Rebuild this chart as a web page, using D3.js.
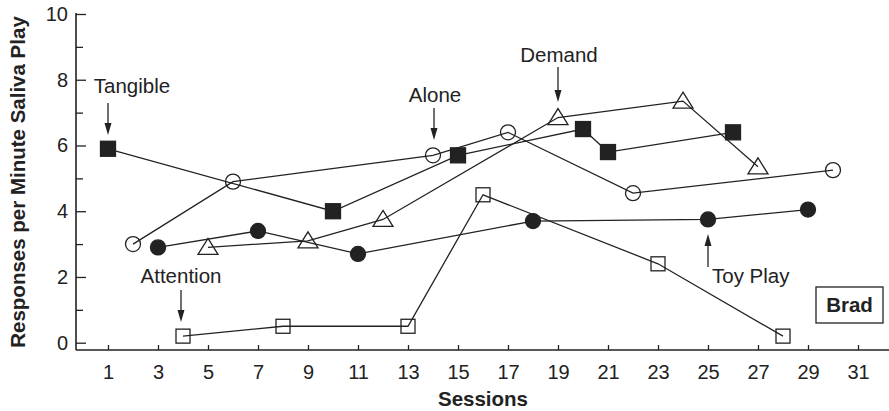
<!DOCTYPE html>
<html>
<head>
<meta charset="utf-8">
<script src="https://cdn.jsdelivr.net/npm/d3@7"></script>
<style>
  body { margin: 0; background: #fff; }
  svg { display: block; font-family: "Liberation Sans", Arial, sans-serif; }
  text { fill: #222; }
</style>
</head>
<body>
<svg id="chart" width="889" height="411"></svg>
<script>
// sessions and responses per minute
var tangibleSessions = [1, 10, 15, 20, 21, 26]
var tangibleValues   = [5.9, 4.0, 5.7, 6.5, 5.8, 6.4]

var aloneSessions = [2, 6, 14, 17, 22, 30]
var aloneValues   = [3.0, 4.9, 5.7, 6.4, 4.55, 5.25]

var demandSessions = [5, 9, 12, 19, 24, 27]
var demandValues   = [2.9, 3.1, 3.75, 6.85, 7.35, 5.35]

var toySessions = [3, 7, 11, 18, 25, 29]
var toyValues   = [2.9, 3.4, 2.7, 3.7, 3.75, 4.05]

var attentionSessions = [4, 8, 13, 16, 23, 28]
var attentionValues   = [0.2, 0.5, 0.5, 4.5, 2.4, 0.2]

var xTicks = d3.range(1, 32, 2)
var yTicks = [0, 2, 4, 6, 8, 10]
var yMinorTicks = [1, 3, 5, 7, 9]

var ink = "#222"

var svg = d3.select("#chart")

var x = d3.scaleLinear().domain([1, 31]).range([108, 858])
var y = d3.scaleLinear().domain([0, 10]).range([342.7, 14])

var axisLeftX = 76,
    axisBottomY = 350

// y axis
var yAxis = svg.append("g")
    .attr("transform", "translate(" + axisLeftX + ",0)")
    .call(d3.axisLeft(y).tickValues(yTicks).tickSize(-10).tickSizeOuter(0).tickPadding(8))
yAxis.select(".domain").remove()
yAxis.selectAll("line").attr("stroke", ink).attr("stroke-width", 1.3)
yAxis.selectAll("text").attr("font-size", 20).style("fill", ink)

var yMinor = svg.append("g")
    .attr("transform", "translate(" + axisLeftX + ",0)")
    .call(d3.axisLeft(y).tickValues(yMinorTicks).tickSize(-7).tickFormat(""))
yMinor.select(".domain").remove()
yMinor.selectAll("line").attr("stroke", ink).attr("stroke-width", 1.3)

// x axis
var xAxis = svg.append("g")
    .attr("transform", "translate(0," + axisBottomY + ")")
    .call(d3.axisBottom(x).tickValues(xTicks).tickSize(-5).tickSizeOuter(0).tickPadding(15))
xAxis.select(".domain").remove()
xAxis.selectAll("line").attr("stroke", ink).attr("stroke-width", 1.3)
xAxis.selectAll("text").attr("font-size", 20).style("fill", ink)

// axis lines
svg.append("line")
    .attr("x1", axisLeftX).attr("x2", axisLeftX)
    .attr("y1", y(10) - 1).attr("y2", axisBottomY)
    .attr("stroke", ink).attr("stroke-width", 1.6)
svg.append("line")
    .attr("x1", axisLeftX).attr("x2", 889)
    .attr("y1", axisBottomY).attr("y2", axisBottomY)
    .attr("stroke", ink).attr("stroke-width", 1.6)

// axis titles
svg.append("text")
    .attr("transform", "translate(25," + 182 + ") rotate(-90)")
    .attr("text-anchor", "middle")
    .attr("font-size", 20.5)
    .attr("font-weight", "bold")
    .text("Responses per Minute Saliva Play")

svg.append("text")
    .attr("x", 483).attr("y", 406)
    .attr("text-anchor", "middle")
    .attr("font-size", 20.5)
    .attr("font-weight", "bold")
    .text("Sessions")

// series
var line = d3.line()
    .x(function(d) { return x(d[0]) })
    .y(function(d) { return y(d[1]) })

function zip(a, b) {
  return a.map(function(v, i) { return [v, b[i]] })
}

var series = [
  { data: zip(tangibleSessions, tangibleValues), marker: "square", fill: ink },
  { data: zip(aloneSessions, aloneValues), marker: "circle", fill: "#fff" },
  { data: zip(demandSessions, demandValues), marker: "triangle", fill: "#fff" },
  { data: zip(toySessions, toyValues), marker: "circle", fill: ink },
  { data: zip(attentionSessions, attentionValues), marker: "square", fill: "#fff", small: true }
]

series.forEach(function(s) {
  svg.append("path")
      .attr("d", line(s.data))
      .attr("fill", "none")
      .attr("stroke", ink)
      .attr("stroke-width", 1.3)
})

series.forEach(function(s) {
  var g = svg.append("g")
  s.data.forEach(function(d) {
    var cx = x(d[0]), cy = y(d[1])
    if (s.marker === "square") {
      var h = s.small ? 7 : 7.5
      g.append("rect")
          .attr("x", cx - h).attr("y", cy - h)
          .attr("width", 2 * h).attr("height", 2 * h)
          .attr("fill", s.fill).attr("fill-opacity", s.fill === "#fff" ? 0 : 1)
          .attr("stroke", ink).attr("stroke-width", 1.3)
    } else if (s.marker === "circle") {
      g.append("circle")
          .attr("cx", cx).attr("cy", cy).attr("r", 7.5)
          .attr("fill", s.fill).attr("fill-opacity", s.fill === "#fff" ? 0 : 1)
          .attr("stroke", ink).attr("stroke-width", 1.3)
    } else {
      g.append("path")
          .attr("d", "M" + cx + "," + (cy - 9) + "L" + (cx + 10) + "," + (cy + 7) + "L" + (cx - 10) + "," + (cy + 7) + "Z")
          .attr("fill", "none")
          .attr("stroke", ink).attr("stroke-width", 1.3)
    }
  })
})

// annotations: label, text position, arrow x, arrow from/to
var notes = [
  { text: "Tangible", tx: 132, ty: 93, anchor: "middle", ax: 108, y1: 103, y2: 135 },
  { text: "Alone", tx: 435, ty: 102, anchor: "middle", ax: 434, y1: 108, y2: 140 },
  { text: "Demand", tx: 559, ty: 62, anchor: "middle", ax: 558, y1: 67, y2: 102 },
  { text: "Attention", tx: 181, ty: 283, anchor: "middle", ax: 181, y1: 290, y2: 322 },
  { text: "Toy Play", tx: 712, ty: 283, anchor: "start", ax: 708, y1: 267, y2: 234 }
]

notes.forEach(function(n) {
  svg.append("text")
      .attr("x", n.tx).attr("y", n.ty)
      .attr("text-anchor", n.anchor)
      .attr("font-size", 20.5)
      .text(n.text)
  var dir = n.y2 > n.y1 ? 1 : -1
  svg.append("line")
      .attr("x1", n.ax).attr("x2", n.ax)
      .attr("y1", n.y1).attr("y2", n.y2 - dir * 9)
      .attr("stroke", ink).attr("stroke-width", 1.3)
  svg.append("path")
      .attr("d", "M" + n.ax + "," + n.y2 + "L" + (n.ax - 3.5) + "," + (n.y2 - dir * 12) + "L" + (n.ax + 3.5) + "," + (n.y2 - dir * 12) + "Z")
      .attr("fill", ink)
})

// subject label
svg.append("rect")
    .attr("x", 816).attr("y", 287).attr("width", 67).attr("height", 36)
    .attr("fill", "#fff").attr("stroke", ink).attr("stroke-width", 1.3)
svg.append("text")
    .attr("x", 849.5).attr("y", 312)
    .attr("text-anchor", "middle")
    .attr("font-size", 20.5)
    .attr("font-weight", "bold")
    .text("Brad")
</script>
</body>
</html>
